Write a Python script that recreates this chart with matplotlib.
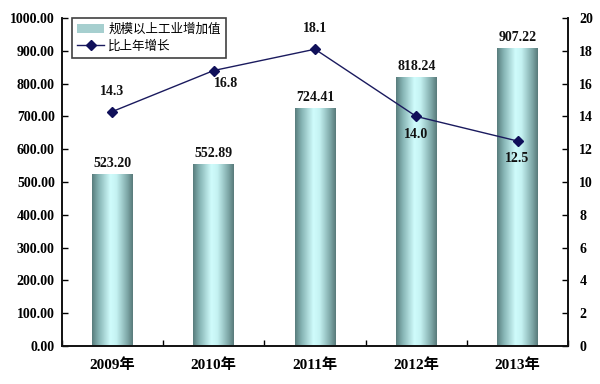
import matplotlib
matplotlib.use("Agg")
import matplotlib.pyplot as plt
import numpy as np
from matplotlib.colors import LinearSegmentedColormap
from matplotlib.patches import Patch
from matplotlib.lines import Line2D

years = ["2009年", "2010年", "2011年", "2012年", "2013年"]
values = [523.20, 552.89, 724.41, 818.24, 907.22]
growth = [14.3, 16.8, 18.1, 14.0, 12.5]
bar_name = "规模以上工业增加值"
line_name = "比上年增长"

serif = ["Liberation Serif", "Noto Sans CJK SC", "DejaVu Sans"]
cjk = ["Noto Sans CJK SC", "DejaVu Sans"]

fig = plt.figure(figsize=(6.0, 3.84), dpi=100)
ax = fig.add_axes([0.103, 0.099, 0.844, 0.854])
ax2 = ax.twinx()

x = np.arange(len(years))
bars = ax.bar(x, values, width=0.4, color="none", edgecolor="none", zorder=2)

cmap = LinearSegmentedColormap.from_list(
    "cyl", [(0.0, "#587c7c"), (0.15, "#82b0b0"), (0.45, "#d0fcfc"),
            (0.6, "#c4f2f2"), (0.85, "#82acac"), (1.0, "#587a7a")])
grad = np.linspace(0, 1, 256).reshape(1, -1)
for b in bars:
    x0, y0 = b.get_x(), b.get_y()
    w, h = b.get_width(), b.get_height()
    ax.imshow(grad, cmap=cmap, extent=[x0, x0 + w, y0, y0 + h],
              aspect="auto", zorder=2, interpolation="bilinear")

ax.set_xlim(-0.5, len(years) - 0.5)
ax.set_ylim(0, 1000)
ax.set_yticks(np.arange(0, 1001, 100))
ax.set_yticklabels([f"{v:.2f}" for v in np.arange(0, 1001, 100)])
ax.set_xticks(x)
ax.set_xticklabels(years)
ax.set_xticks(np.arange(-0.5, len(years), 1), minor=True)
ax.tick_params(axis="x", which="major", length=0, pad=9)
ax.tick_params(axis="x", which="minor", direction="in", length=4, width=1)
ax.tick_params(axis="y", direction="in", length=4, width=1, pad=5)

for v, xi in zip(values, x):
    ax.text(xi, v + 14, f"{v:.2f}", ha="center", va="bottom",
            fontsize=10, fontweight="bold", family=serif, color="#111111")

ax2.plot(x, growth, color="#1a1a5e", lw=1, marker="D", markersize=5,
         markerfacecolor="#10105a", markeredgecolor="#10105a", zorder=5)
ax2.set_ylim(0, 20)
ax2.set_yticks(np.arange(0, 21, 2))
ax2.tick_params(axis="y", direction="in", length=4, width=1, pad=8)

offsets = [(0, 10, "center", "bottom"), (9, -5, "center", "top"),
           (0, 10, "center", "bottom"), (0, -8, "center", "top"),
           (0, -8, "center", "top")]
for xi, g, (dx, dy, ha, va) in zip(x, growth, offsets):
    ax2.annotate(f"{g:.1f}", (xi, g), xytext=(dx, dy), textcoords="offset points",
                 ha=ha, va=va, fontsize=10, fontweight="bold", family=serif,
                 color="#111111")

for a in (ax, ax2):
    a.spines["top"].set_visible(False)
    for s in ("left", "right", "bottom"):
        a.spines[s].set_linewidth(1.2)
        a.spines[s].set_color("#111111")
    for lab in a.get_yticklabels():
        lab.set_fontfamily(serif)
        lab.set_fontweight("bold")
        lab.set_fontsize(10)
for lab in ax.get_xticklabels():
    lab.set_fontfamily(serif)
    lab.set_fontweight("bold")
    lab.set_fontsize(11)
ax2.patch.set_visible(False)

handles = [Patch(facecolor="#a6cfcf", edgecolor="none"),
           Line2D([0], [0], color="#1a1a5e", lw=1, marker="D", markersize=5,
                  markerfacecolor="#10105a", markeredgecolor="#10105a")]
leg = ax2.legend(handles, [bar_name, line_name], loc="upper left",
                 bbox_to_anchor=(0.02, 1.0), borderaxespad=0, frameon=True,
                 fancybox=False, prop={"family": cjk, "size": 9},
                 handlelength=2.2, handletextpad=0.3, borderpad=0.4,
                 labelspacing=0.3)
leg.get_frame().set_edgecolor("#111111")
leg.get_frame().set_linewidth(1.2)

fig.savefig("out.png", dpi=100)
